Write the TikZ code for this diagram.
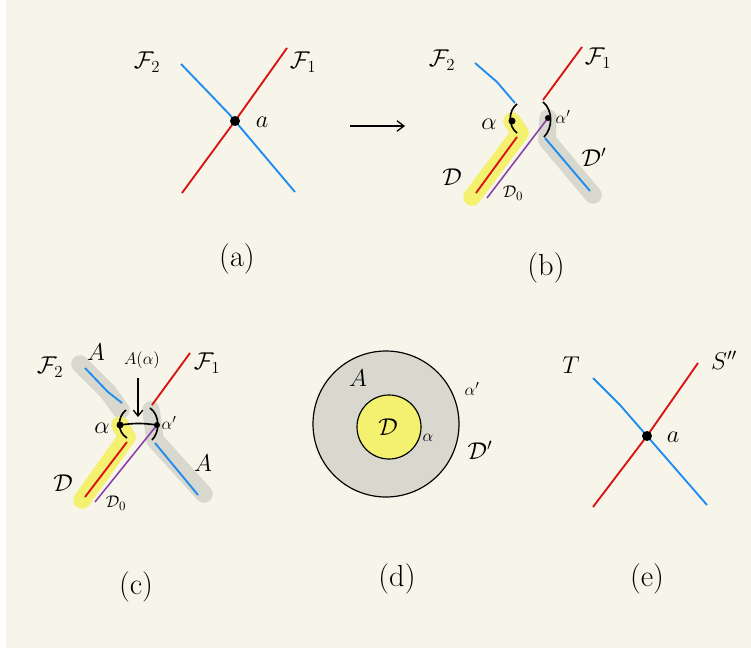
\documentclass[tikz,border=0pt]{standalone}
\usepackage{amssymb}
\usetikzlibrary{arrows.meta}
\definecolor{bgcream}{RGB}{247,245,233}
\definecolor{lineblue}{RGB}{30,140,240}
\definecolor{linered}{RGB}{215,20,20}
\definecolor{linepurple}{RGB}{135,60,170}
\definecolor{hiyellow}{RGB}{244,240,112}
\definecolor{higray}{RGB}{216,216,206}
\begin{document}
\begin{tikzpicture}[x=0.03cm,y=-0.03cm,
  bline/.style={lineblue,line width=1.6pt,line join=round},
  rline/.style={linered,line width=1.6pt,line join=round},
  pline/.style={linepurple,line width=1.3pt},
  yband/.style={hiyellow,line width=15pt,line cap=round,line join=round},
  gband/.style={higray,line width=15pt,line cap=round,line join=round},
  brk/.style={black,line width=1.4pt},
  lbl/.style={font=\fontsize{22}{26}\selectfont,inner sep=0pt},
  sml/.style={font=\fontsize{15}{18}\selectfont,inner sep=0pt},
  capt/.style={font=\fontsize{26}{30}\selectfont,inner sep=0pt}]
% page
\useasboundingbox (0,0) rectangle (751,650);
\fill[white] (0,0) rectangle (751,650);
\fill[bgcream] (6,0) rectangle (751,648);

% (a)
\coordinate (a-x) at (235,121);
\draw[bline] (181,64) -- (208,92) -- (230,115) -- (a-x) -- (295,192);
\draw[rline] (182,193) -- (a-x) -- (287,48);
\fill (a-x) circle (5);
\node[lbl] (a-F2) at (147,62) {$\mathcal{F}_2$};
\node[lbl] (a-F1) at (303,62) {$\mathcal{F}_1$};
\node[lbl] (a-pt) at (262,122) {$a$};
\node[capt] (a-cap) at (237,259) {(a)};

% arrow
\coordinate (arr-s) at (350,126);
\coordinate (arr-e) at (405,126);
\draw[line width=1.1pt,-{Straight Barb[length=6pt,width=9pt]}] (arr-s) -- (arr-e);

% (b)
\coordinate (b-al) at (512,121);
\coordinate (b-ar) at (548,118);
\draw[yband] (b-al) -- (520,133) -- (472,197);
\draw[gband] (b-ar) -- (547,140) -- (593,195);
\draw[bline] (475,63) -- (497,82) -- (515,103);
\draw[rline] (543,100) -- (582,47);
\draw[rline] (517,137) -- (476,193);
\draw[pline] (b-ar) -- (487,198);
\draw[bline] (545,138) -- (590,191);
\draw[brk] (517,104) .. controls (508,111) and (508,126) .. (517,133);
\draw[brk] (543,102) .. controls (553,110) and (553,128) .. (544,137);
\fill (b-al) circle (3.5);
\fill (b-ar) circle (3);
\node[lbl] (b-F2) at (442,60) {$\mathcal{F}_2$};
\node[lbl] (b-F1) at (598,58) {$\mathcal{F}_1$};
\node[lbl] (b-alpha) at (489,124) {$\alpha$};
\node[sml] (b-alpha1) at (563,117) {$\alpha'$};
\node[lbl] (b-D) at (452,177) {$\mathcal{D}$};
\node[sml] (b-D0) at (513,193) {$\mathcal{D}_0$};
\node[lbl] (b-D1) at (594,157) {$\mathcal{D}'$};
\node[capt] (b-cap) at (546,268) {(b)};

% (c)
\coordinate (c-al) at (120,425);
\coordinate (c-ar) at (157,425);
\draw[gband] (80,364) -- (108,392) -- (121,410);
\draw[gband] (151,410) -- (155,440) -- (204,494);
\draw[yband] (c-al) -- (127,437) -- (82,500);
\draw[bline] (85,368) -- (108,392) -- (122,403);
\draw[rline] (152,405) -- (190,353);
\draw[rline] (127,442) -- (85,497);
\draw[pline] (c-ar) -- (95,502);
\draw[bline] (155,443) -- (198,495);
\draw[brk] (126,410) .. controls (117,417) and (117,432) .. (127,438);
\draw[brk] (150,408) .. controls (160,415) and (160,432) .. (152,440);
\draw[brk] (c-al) to[bend left=8] (c-ar);
\fill (c-al) circle (3.5);
\fill (c-ar) circle (3);
\coordinate (c-arr) at (138,378);
\draw[line width=1.1pt,-{Straight Barb[length=5pt,width=8pt]}] (c-arr) -- (138,417);
\node[lbl] (c-F2) at (50,367) {$\mathcal{F}_2$};
\node[lbl] (c-A1) at (96,352) {$A$};
\node[sml] (c-Aa) at (142,360) {$A(\alpha)$};
\node[lbl] (c-F1) at (207,363) {$\mathcal{F}_1$};
\node[lbl] (c-alpha) at (102,428) {$\alpha$};
\node[sml] (c-alpha1) at (169,423) {$\alpha'$};
\node[lbl] (c-D) at (63,483) {$\mathcal{D}$};
\node[sml] (c-D0) at (116,503) {$\mathcal{D}_0$};
\node[lbl] (c-A2) at (203,463) {$A$};
\node[capt] (c-cap) at (136,587) {(c)};

% (d)
\coordinate (d-o) at (386,424);
\coordinate (d-i) at (389,427);
\filldraw[fill=higray,draw=black,line width=1pt] (d-o) circle (73);
\filldraw[fill=hiyellow,draw=black,line width=1pt] (d-i) circle (32);
\node[lbl] (d-A) at (358,378) {$A$};
\node[lbl] (d-D) at (388,427) {$\mathcal{D}$};
\node[sml] (d-alpha) at (428,438) {$\alpha$};
\node[sml] (d-alpha1) at (472,389) {$\alpha'$};
\node[lbl] (d-D1) at (480,450) {$\mathcal{D}'$};
\node[capt] (d-cap) at (397,579) {(d)};

% (e)
\coordinate (e-x) at (647,436);
\draw[bline] (593,378) -- (620,405) -- (e-x) -- (707,505);
\draw[rline] (593,507) -- (e-x) -- (698,363);
\fill (e-x) circle (5);
\node[lbl] (e-T) at (571,365) {$T$};
\node[lbl] (e-S) at (724,360) {$S''$};
\node[lbl] (e-pt) at (673,437) {$a$};
\node[capt] (e-cap) at (647,579) {(e)};
\end{tikzpicture}
\end{document}
